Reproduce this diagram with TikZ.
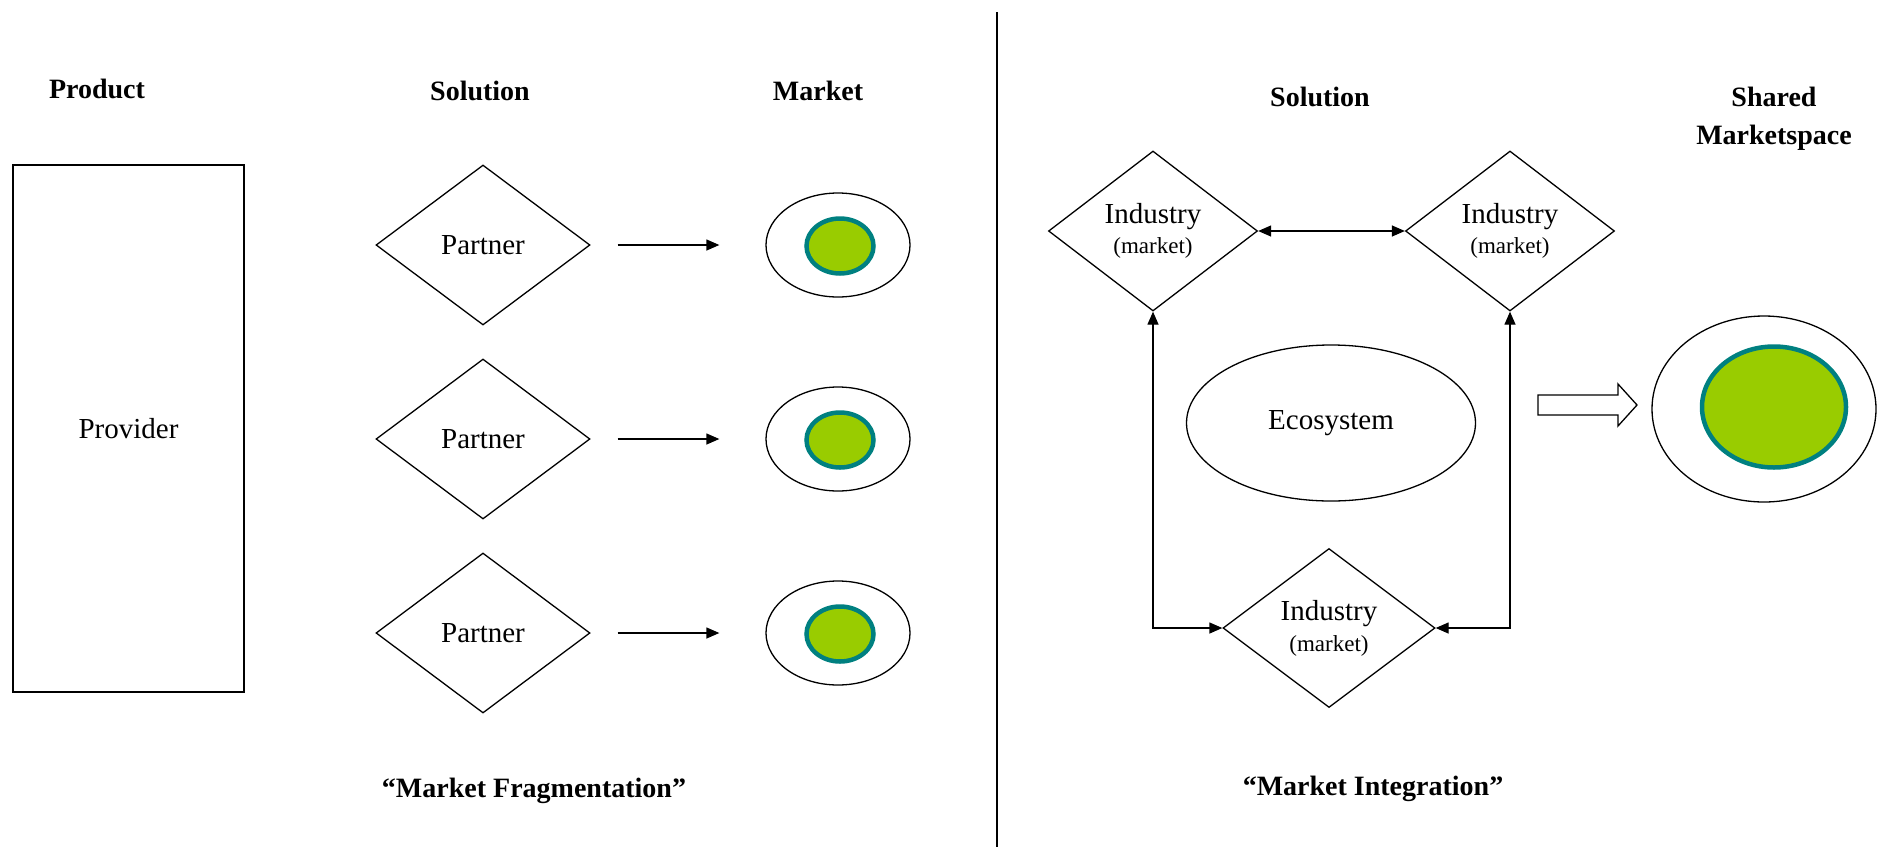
\documentclass[tikz,border=0pt]{standalone}
\usepackage{fontspec}
\setmainfont{Liberation Serif}
\usetikzlibrary{shapes.geometric,arrows.meta}
\definecolor{tealc}{HTML}{008080}
\definecolor{greenc}{HTML}{99CC00}
\newcommand\mkt[1]{{\fontsize{23}{30}\selectfont #1}}
\begin{document}
\begin{tikzpicture}[x=1pt,y=-1pt,
  every node/.style={font=\fontsize{29}{33}\selectfont},
  lbl/.style={font=\fontsize{28}{38}\selectfont\bfseries, align=center},
  dia/.style={diamond, draw, line width=1.3pt, minimum width=214pt, minimum height=160pt, inner sep=0pt, align=center},
  outerell/.style={ellipse, draw, line width=1.3pt, inner sep=0pt},
  innerell/.style={ellipse, draw=tealc, fill=greenc, line width=4.5pt, inner sep=0pt},
  conn/.style={line width=1.3pt, -{Triangle[length=13pt,width=11pt]}},
  conn2/.style={line width=1.3pt, {Triangle[length=13pt,width=11pt]}-{Triangle[length=13pt,width=11pt]}}
]
\useasboundingbox (0,0) rectangle (1883,847);

% divider
\coordinate (dtop) at (997,12);
\coordinate (dbot) at (997,847);
\draw[line width=1.5pt] (dtop) -- (dbot);

% headings
\node[lbl] (hprod) at (97,89) {Product};
\node[lbl] (hsol1) at (480,91) {Solution};
\node[lbl] (hmark) at (818,91) {Market};
\node[lbl] (hsol2) at (1320,97) {Solution};
\node[lbl] (hshared) at (1774,119) {Shared\\Marketspace};
\node[lbl] (frag) at (534,791) {“Market Fragmentation”};
\node[lbl] (integ) at (1373,789) {“Market Integration”};

% left part
\node[draw, line width=1.3pt, minimum width=231pt, minimum height=527pt, inner sep=0pt] (prov) at (128.5,428.5) {Provider};

\foreach \i/\y in {1/245,2/439,3/633}{
  \node[dia] (p\i) at (483,\y) {\raisebox{-2pt}{Partner}};
  \node[outerell, minimum width=144pt, minimum height=104pt] (m\i) at (838,\y) {};
  \node[innerell, minimum width=67pt, minimum height=55pt] (mi\i) at (840,\y+1) {};
  \draw[conn, shorten <=27pt, shorten >=46pt] (p\i.east) -- (m\i.west);
}

% right part
\node[dia, minimum width=209pt] (ind1) at (1153,231) {\raisebox{-3pt}{Industry}\\\mkt{(market)}};
\node[dia, minimum width=209pt] (ind2) at (1510,231) {\raisebox{-3pt}{Industry}\\\mkt{(market)}};
\node[dia, minimum width=212pt, minimum height=159pt] (ind3) at (1329,628) {\raisebox{-2pt}{Industry}\\\mkt{(market)}};

\node[outerell, minimum width=289pt, minimum height=156pt] (eco) at (1331,423) {Ecosystem};

\draw[conn2] (ind1.east) -- (ind2.west);
\draw[conn2] (ind1.south) |- (ind3.west);
\draw[conn2] (ind2.south) |- (ind3.east);

% block arrow
\draw[line width=1.3pt, line join=miter, fill=white]
  (1538,395) -- (1618,395) -- (1618,384) -- (1637,405) -- (1618,426) -- (1618,415) -- (1538,415) -- cycle;

\node[outerell, minimum width=224pt, minimum height=186pt] (shared) at (1764,409) {};
\node[innerell, minimum width=144pt, minimum height=121pt] (sharedin) at (1774,407) {};

\end{tikzpicture}
\end{document}
